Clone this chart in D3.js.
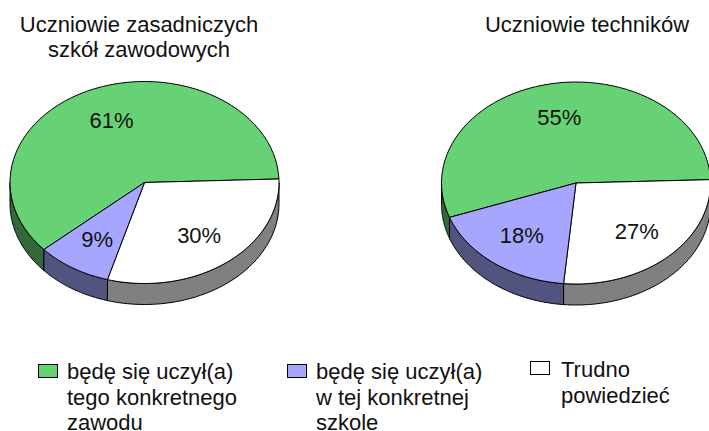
<!DOCTYPE html>
<html>
<head>
  <meta charset="UTF-8">
  <title>pie-3d</title>
  <style>
    html, body { margin: 0; padding: 0; background: #fff; }
    text { font-family: "Liberation Sans", Arial, sans-serif; fill: #111; }
  </style>
</head>
<body>
  <script src="https://d3js.org/d3.v7.min.js"></script>
  <script>
  const categories = ["będę się uczył(a) tego konkretnego zawodu", "będę się uczył(a) w tej konkretnej szkole", "Trudno powiedzieć"];
  const leftValues = [61, 9, 30];
  const rightValues = [55, 18, 27];
  const chartTitles = [["Uczniowie zasadniczych", "szkół zawodowych"], ["Uczniowie techników"]];
  const legendLines = [["będę się uczył(a)", "tego konkretnego", "zawodu"], ["będę się uczył(a)", "w tej konkretnej", "szkole"], ["Trudno", "powiedzieć"]];
  // clockwise slice order on the pie differs from the legend order
  const sliceOrder = [0, 2, 1];

  const topColors = ["#66d275", "#a6a6ff", "#ffffff"];
  const sideColors = ["#336939", "#535380", "#808080"];

  const width = 709, height = 431;
  const rx = 134.5, ry = 101, depth = 21;

  const svg = d3.select("body").append("svg")
    .attr("width", width)
    .attr("height", height)
    .style("display", "block");

  // one unit circle scale per axis, the pie is just a squashed circle
  function drawPie(values, cx, cy, rotation) {
    const x = d3.scaleLinear().domain([-1, 1]).range([cx - rx, cx + rx]);
    const y = d3.scaleLinear().domain([-1, 1]).range([cy - ry, cy + ry]);
    const px = a => x(Math.sin(a));
    const py = a => y(-Math.cos(a));
    const pie = d3.pie().sort(null)
      .value(k => values[k])
      .startAngle(rotation)
      .endAngle(rotation + 2 * Math.PI);
    const slices = pie(sliceOrder);
    const line = d3.line();
    const g = svg.append("g");

    function arcPoints(a0, a1, off) {
      return d3.range(0, 61).map(i => {
        const a = a0 + (a1 - a0) * i / 60;
        return [px(a), py(a) + off];
      });
    }

    // side wall, only the front half (angles 90..270 deg) is visible
    slices.forEach(d => {
      const walls = [[Math.PI / 2, 3 * Math.PI / 2], [Math.PI * 2.5, Math.PI * 3.5]];
      walls.forEach(w => {
        const a0 = Math.max(d.startAngle, w[0]);
        const a1 = Math.min(d.endAngle, w[1]);
        if (a1 <= a0) return;
        const pts = arcPoints(a0, a1, 0).concat(arcPoints(a1, a0, depth));
        g.append("path")
          .attr("d", line(pts) + "Z")
          .attr("fill", sideColors[d.data])
          .attr("stroke", "#000")
          .attr("stroke-width", 1)
          .attr("stroke-linejoin", "round");
      });
    });

    // top face
    slices.forEach(d => {
      const pts = [[x(0), y(0)]].concat(arcPoints(d.startAngle, d.endAngle, 0));
      g.append("path")
        .attr("d", line(pts) + "Z")
        .attr("fill", topColors[d.data])
        .attr("stroke", "#000")
        .attr("stroke-width", 1)
        .attr("stroke-linejoin", "round");
    });

    // labels
    slices.forEach(d => {
      const mid = (d.startAngle + d.endAngle) / 2;
      g.append("text")
        .attr("x", x(Math.sin(mid) * 0.66))
        .attr("y", y(-Math.cos(mid) * 0.66))
        .attr("text-anchor", "middle")
        .attr("dy", "0.35em")
        .attr("font-size", 22)
        .text(d.value + "%");
    });
  }

  const deg = Math.PI / 180;
  drawPie(leftValues, 144.5, 182.5, 228.4 * deg);
  drawPie(rightValues, 576, 183, 250.1 * deg);

  // titles
  const titleX = [139, 587];
  chartTitles.forEach((lines, k) => {
    lines.forEach((t, i) => {
      svg.append("text")
        .attr("x", titleX[k])
        .attr("y", 31.5 + i * 25)
        .attr("text-anchor", "middle")
        .attr("font-size", 22)
        .text(t);
    });
  });

  // legend
  const legendX = [38, 287, 530];
  const legendY = [364, 364, 361];
  const legendBase = [379, 379, 377];
  categories.forEach((c, k) => {
    svg.append("rect")
      .attr("x", legendX[k] + 0.5)
      .attr("y", legendY[k] + 0.5)
      .attr("width", 19)
      .attr("height", 13)
      .attr("fill", topColors[k])
      .attr("stroke", "#000");
    legendLines[k].forEach((t, i) => {
      svg.append("text")
        .attr("x", legendX[k] + (k === 2 ? 31 : 29))
        .attr("y", legendBase[k] + i * 25.5)
        .attr("font-size", 22)
        .text(t);
    });
  });
  </script>
</body>
</html>
